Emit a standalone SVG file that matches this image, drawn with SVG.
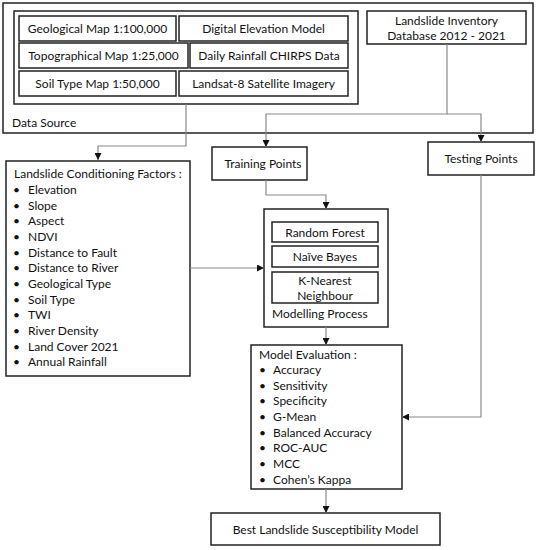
<svg xmlns="http://www.w3.org/2000/svg" width="538" height="550" viewBox="0 0 538 550">
<style>
.box{fill:#fff;stroke:#222;stroke-width:1.5}
.t{font-family:Lato,"Open Sans",sans-serif;font-size:12px;fill:#111}
.c{text-anchor:middle}
.con{fill:none;stroke:#8a8a8a;stroke-width:1.2}
</style>
<defs>
<marker id="arr" viewBox="0 0 10 10" refX="10" refY="5" markerWidth="7" markerHeight="7" orient="auto" markerUnits="userSpaceOnUse">
<path d="M0,0 L10,5 L0,10 z" fill="#111"/>
</marker>
</defs>
<rect width="538" height="550" fill="#fff"/>
<g id="data-source">
<rect class="box" x="3" y="3" width="530" height="130"/>
<rect class="box" x="14" y="11" width="344" height="93"/>
<text class="t" x="12" y="127">Data Source</text>
</g>
<g id="geological-map"><rect class="box" x="19" y="16" width="157" height="25"/><text class="t c" x="97.5" y="33">Geological Map 1:100,000</text></g>
<g id="dem"><rect class="box" x="179" y="16" width="169" height="25"/><text class="t c" x="263.5" y="33">Digital Elevation Model</text></g>
<g id="topo-map"><rect class="box" x="19" y="43" width="169" height="25"/><text class="t c" x="103.5" y="60">Topographical Map 1:25,000</text></g>
<g id="rainfall"><rect class="box" x="190" y="43" width="158" height="25"/><text class="t c" x="269" y="60">Daily Rainfall CHIRPS Data</text></g>
<g id="soil-map"><rect class="box" x="19" y="71" width="157" height="25"/><text class="t c" x="97.5" y="88">Soil Type Map 1:50,000</text></g>
<g id="landsat"><rect class="box" x="179" y="71" width="169" height="25"/><text class="t c" x="263.5" y="88">Landsat-8 Satellite Imagery</text></g>
<g id="inventory"><rect class="box" x="367" y="11" width="159" height="33"/><text class="t c" x="446.5" y="25">Landslide Inventory</text><text class="t c" x="446.5" y="40">Database 2012 - 2021</text></g>
<g id="conditioning">
<rect class="box" x="6" y="161" width="184" height="215"/>
<text class="t" x="14" y="178">Landslide Conditioning Factors :</text>
<g class="t">
<text x="13" y="194">•</text><text x="28" y="194">Elevation</text>
<text x="13" y="210">•</text><text x="28" y="210">Slope</text>
<text x="13" y="225">•</text><text x="28" y="225">Aspect</text>
<text x="13" y="241">•</text><text x="28" y="241">NDVI</text>
<text x="13" y="257">•</text><text x="28" y="257">Distance to Fault</text>
<text x="13" y="272">•</text><text x="28" y="272">Distance to River</text>
<text x="13" y="288">•</text><text x="28" y="288">Geological Type</text>
<text x="13" y="304">•</text><text x="28" y="304">Soil Type</text>
<text x="13" y="319">•</text><text x="28" y="319">TWI</text>
<text x="13" y="335">•</text><text x="28" y="335">River Density</text>
<text x="13" y="351">•</text><text x="28" y="351">Land Cover 2021</text>
<text x="13" y="366">•</text><text x="28" y="366">Annual Rainfall</text>
</g>
</g>
<g id="training"><rect class="box" x="212" y="147" width="95" height="33"/><text class="t c" x="263" y="168">Training Points</text></g>
<g id="testing"><rect class="box" x="428" y="142" width="106" height="33"/><text class="t c" x="481" y="163">Testing Points</text></g>
<g id="modelling">
<rect class="box" x="264" y="209" width="124" height="118"/>
<text class="t" x="272" y="318">Modelling Process</text>
</g>
<g id="rf"><rect class="box" x="272" y="222" width="106" height="20"/><text class="t c" x="325" y="237">Random Forest</text></g>
<g id="nb"><rect class="box" x="272" y="246" width="106" height="21"/><text class="t c" x="325" y="261">Naïve Bayes</text></g>
<g id="knn"><rect class="box" x="272" y="272" width="106" height="31"/><text class="t c" x="325" y="285">K-Nearest</text><text class="t c" x="325" y="300">Neighbour</text></g>
<g id="evaluation">
<rect class="box" x="251" y="345" width="151" height="144"/>
<text class="t" x="259" y="359">Model Evaluation :</text>
<g class="t">
<text x="259" y="374">•</text><text x="273" y="374">Accuracy</text>
<text x="259" y="390">•</text><text x="273" y="390">Sensitivity</text>
<text x="259" y="405">•</text><text x="273" y="405">Specificity</text>
<text x="259" y="421">•</text><text x="273" y="421">G-Mean</text>
<text x="259" y="437">•</text><text x="273" y="437">Balanced Accuracy</text>
<text x="259" y="452">•</text><text x="273" y="452">ROC-AUC</text>
<text x="259" y="468">•</text><text x="273" y="468">MCC</text>
<text x="259" y="484">•</text><text x="273" y="484">Cohen’s Kappa</text>
</g>
</g>
<g id="best"><rect class="box" x="211" y="513" width="229" height="32"/><text class="t c" x="325.5" y="534">Best Landslide Susceptibility Model</text></g>
<g id="connectors">
<path class="con" d="M186,104 V146 H98 V160" marker-end="url(#arr)"/>
<path class="con" d="M447,44 V114 H266 V147" marker-end="url(#arr)"/>
<path class="con" d="M447,114 H481 V142" marker-end="url(#arr)"/>
<path class="con" d="M266,180 V195 H326 V209" marker-end="url(#arr)"/>
<path class="con" d="M190,268 H264" marker-end="url(#arr)"/>
<path class="con" d="M326,327 V345" marker-end="url(#arr)"/>
<path class="con" d="M481,175 V417 H402" marker-end="url(#arr)"/>
<path class="con" d="M326,489 V513" marker-end="url(#arr)"/>
</g>
</svg>
